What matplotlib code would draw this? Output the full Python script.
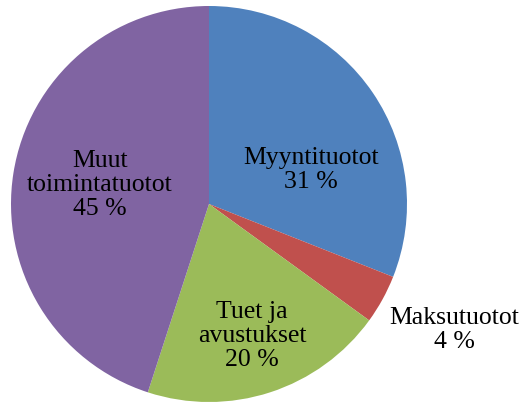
import matplotlib.pyplot as plt

# data
labels = ['Myyntituotot', 'Maksutuotot', 'Tuet ja\navustukset', 'Muut\ntoimintatuotot']
shares = [31, 4, 20, 45]
colors = ['#4F81BD', '#C0504D', '#9BBB59', '#8064A2']

# label centres in pixel coords (x, y from top)
label_pos = [(311, 170), (454, 330), (252, 336), (100, 185)]

H = 403
fig = plt.figure(figsize=(5.3, 4.03), dpi=100)
ax = fig.add_axes([0, 0, 1, 1])

ax.pie(shares, colors=colors, startangle=90, counterclock=False,
       center=(209, H - 204), radius=198, frame=True,
       wedgeprops=dict(linewidth=0))
ax.set_xlim(0, 530)
ax.set_ylim(0, H)
ax.set_aspect('equal')
ax.axis('off')

for lab, val, (x, y) in zip(labels, shares, label_pos):
    ax.text(x, H - y, f'{lab}\n{val} %', ha='center', va='center',
            fontsize=18.5, family='Liberation Serif', linespacing=1.1)

fig.savefig('out.png', dpi=100)
